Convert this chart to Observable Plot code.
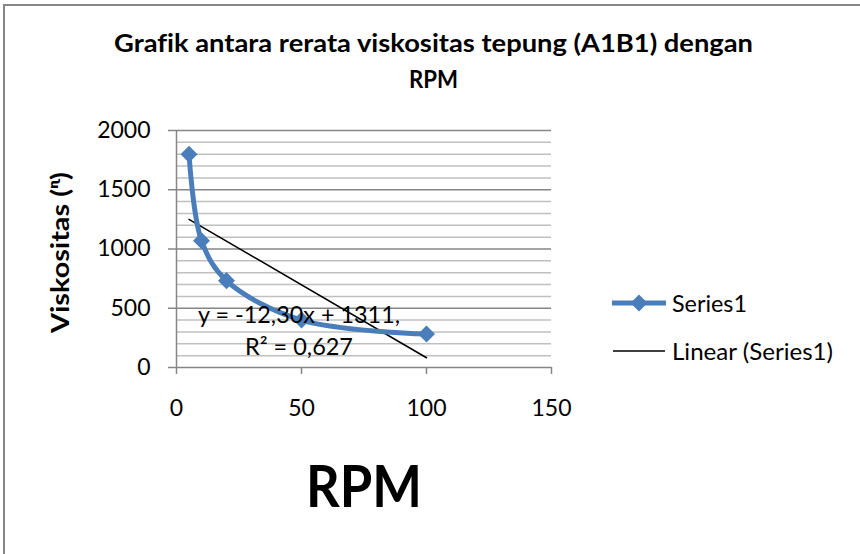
<!DOCTYPE html>
<html><head><meta charset="utf-8">
<script src="https://cdn.jsdelivr.net/npm/d3@7"></script>
<script src="https://cdn.jsdelivr.net/npm/@observablehq/plot@0.6"></script>
<style>
body{margin:0;background:#fff;}
#chart{position:relative;width:860px;height:554px;overflow:hidden;background:#fff;}
#chart text{font-variant-ligatures:none;}
</style></head><body><div id="chart"></div>
<script>
// ---- data ----
const rpm = [5, 10, 20, 50, 100];
const viskositas = [1800, 1070, 733, 400, 282];
const xTicks = [0, 50, 100, 150];
const yMajor = [0, 500, 1000, 1500, 2000];
const yMinor = [100, 200, 300, 400, 600, 700, 800, 900, 1100, 1200, 1300, 1400, 1600, 1700, 1800, 1900];
const titleLines = ["Grafik antara rerata viskositas tepung (A1B1) dengan", "RPM"];
const xLabel = "RPM";
const yLabel = "Viskositas (ᶯ)";
const seriesName = "Series1";
const trendName = "Linear (Series1)";
const equationLines = ["y = -12,30x + 1311,", "R² = 0,627"];

const data = rpm.map((x, i) => ({x, y: viskositas[i]}));
const blue = "#4a7ebb";
const FONT = "Lato, 'Open Sans', sans-serif";
const plain = d => String(d);

const plot = Plot.plot({
  width: 860, height: 554,
  marginLeft: 176, marginRight: 309, marginTop: 130, marginBottom: 187,
  style: {fontFamily: FONT, fontSize: "23px", background: "transparent", overflow: "visible", color: "#000"},
  x: {domain: [0, 150], label: null},
  y: {domain: [0, 2000], label: null},
  marks: [
    Plot.gridY(yMinor, {stroke: "#c0c0c0", strokeOpacity: 1, strokeWidth: 1.5}),
    Plot.gridY(yMajor, {stroke: "#868686", strokeOpacity: 1, strokeWidth: 1.5}),
    Plot.ruleX([0], {stroke: "#868686", strokeWidth: 1.5}),
    Plot.axisY(yMajor, {tickSize: 8, tickPadding: 18, tickFormat: plain, stroke: "#868686", strokeWidth: 1.5, fill: "#000", fontSize: 23, label: null}),
    Plot.axisX(xTicks, {tickSize: 7, tickPadding: 25, tickFormat: plain, stroke: "#868686", strokeWidth: 1.5, fill: "#000", fontSize: 23, label: null}),
    Plot.linearRegressionY(data, {x: "x", y: "y", stroke: "#000", strokeWidth: 1.5, ci: 0}),
    Plot.line(data, {x: "x", y: "y", curve: "catmull-rom", stroke: blue, strokeWidth: 5}),
    Plot.dot(data, {x: "x", y: "y", symbol: "square", r: 6.8, rotate: 45, fill: blue, stroke: "none"})
  ]
});
document.getElementById("chart").appendChild(plot);

const svg = d3.select(plot);
// border
svg.append("rect").attr("x", 4).attr("y", 5).attr("width", 870).attr("height", 570)
  .attr("fill", "none").attr("stroke", "#868686").attr("stroke-width", 2);

function txt(s, x, y, size, weight, anchor, len) {
  const t = svg.append("text").attr("x", x).attr("y", y)
    .attr("font-family", FONT).attr("font-size", size).attr("font-weight", weight)
    .attr("text-anchor", anchor).attr("fill", "#000").text(s);
  if (len) t.attr("textLength", len).attr("lengthAdjust", "spacingAndGlyphs");
  return t;
}
// title
txt(titleLines[0], 433.5, 52, 24, "bold", "middle", 639);
txt(titleLines[1], 433.5, 88, 24, "bold", "middle", 49);
// x axis title
txt(xLabel, 364, 507, 58, "bold", "middle", 116);
// y axis title
svg.append("text").attr("transform", "translate(69,252.5) rotate(-90)")
  .attr("font-family", FONT).attr("font-size", 24).attr("font-weight", "bold")
  .attr("text-anchor", "middle").attr("textLength", 161).attr("lengthAdjust", "spacingAndGlyphs")
  .text(yLabel);
// equation
txt(equationLines[0], 299, 323, 23, "normal", "middle", 202);
txt(equationLines[1], 299, 355, 23, "normal", "middle", 108);
// legend
const lg = svg.append("g");
lg.append("line").attr("x1", 612).attr("x2", 666).attr("y1", 303).attr("y2", 303)
  .attr("stroke", blue).attr("stroke-width", 5);
lg.append("path").attr("d", d3.symbol(d3.symbolSquare, 6.8 * 6.8 * Math.PI)())
  .attr("transform", "translate(639,303) rotate(45)").attr("fill", blue);
txt(seriesName, 672, 312, 23, "normal", "start", 75);
lg.append("line").attr("x1", 613).attr("x2", 665).attr("y1", 351).attr("y2", 351)
  .attr("stroke", "#000").attr("stroke-width", 1.5);
txt(trendName, 672, 360, 23, "normal", "start", 161);
</script>
</body></html>
